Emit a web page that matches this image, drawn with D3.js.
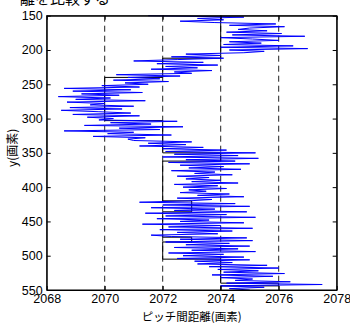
<html>
<head>
<meta charset="utf-8">
<script src="https://d3js.org/d3.v7.min.js"></script>
<style>
  body { margin: 0; background: #fff; }
  text { font-family: "Liberation Sans", Arial, "Noto Sans CJK JP", sans-serif; }
  .jp { font-family: "Noto Sans CJK JP", sans-serif; }
</style>
</head>
<body>
<div id="chart"></div>
<script>

// pitch distance (pixels) read at each image row, rows 150..550 step 2
var pitch = [
  2071.5, 2074.8, 2073.2, 2074.1, 2072.6, 2073.8, 2075.9, 2074.3, 2076.2, 2075.0, 2074.6,
  2075.6, 2074.2, 2076.1, 2074.4, 2076.9, 2074.0, 2075.1, 2076.0, 2074.3, 2075.4, 2074.1,
  2076.5, 2074.0, 2077.0, 2074.3, 2075.5, 2074.8, 2072.8, 2074.0, 2072.3, 2074.1, 2072.5,
  2071.0, 2073.4, 2071.8, 2073.9, 2072.1, 2073.2, 2071.6, 2073.7, 2072.4, 2073.0,
  2070.4, 2072.6, 2070.8, 2071.9, 2070.3, 2072.2, 2070.7, 2071.5, 2069.9, 2071.2,
  2068.6, 2070.9, 2068.9, 2071.3, 2069.2, 2070.5, 2068.4, 2070.2, 2069.0, 2071.4, 2068.7,
  2070.0, 2069.5, 2071.0, 2068.8, 2070.6, 2068.5, 2069.8, 2070.9, 2068.9, 2071.2, 2069.4, 2070.3,
  2069.8, 2072.5, 2070.2, 2071.6, 2069.3, 2072.7, 2070.5, 2071.9, 2068.6, 2071.0, 2070.1,
  2072.3, 2069.6, 2071.4, 2070.8,
  2071.0, 2073.0, 2071.5, 2072.8, 2071.2, 2073.4, 2072.0, 2074.2,
  2072.1, 2075.2, 2072.4, 2074.6, 2072.0, 2075.3, 2072.8, 2074.5, 2072.2, 2075.0,
  2072.6, 2074.1, 2072.9, 2074.7, 2072.3, 2073.8, 2073.1, 2074.4, 2072.5, 2073.6, 2072.8,
  2074.0, 2073.0, 2074.6, 2072.4, 2073.9, 2072.7, 2074.2, 2072.9, 2073.5, 2072.6, 2074.3,
  2073.2, 2074.8, 2072.5, 2073.7, 2072.9,
  2071.2, 2074.5, 2072.0, 2075.0, 2071.6, 2073.8, 2072.4, 2074.9, 2071.4, 2074.2, 2072.1,
  2075.2, 2071.8, 2073.6, 2072.6, 2074.8, 2071.3, 2074.0, 2072.2, 2075.1, 2071.9, 2074.4,
  2072.5, 2073.9, 2071.6,
  2072.3, 2074.9, 2072.6, 2075.1, 2072.1, 2074.3, 2072.8, 2075.0, 2072.4, 2074.6, 2073.0,
  2075.2, 2072.2, 2074.1, 2072.7, 2074.8, 2072.5, 2075.0, 2073.1, 2074.4,
  2073.2, 2075.6, 2073.6, 2076.0, 2073.9, 2075.3, 2074.1, 2076.2, 2073.7, 2075.8, 2074.0,
  2075.1, 2074.5, 2076.4, 2074.2, 2077.5, 2074.0, 2075.5, 2074.3, 2075.0
];
var rows = d3.range(150, 150 + 2 * pitch.length, 2);

// stepped reference distance: row, value
var stepRows = [150, 212, 212, 240, 240, 303, 303, 350, 350, 362, 362, 420, 420, 436, 436, 473, 473, 480, 480, 505, 505, 540, 540, 544, 544, 550];
var stepVals = [2074, 2074, 2072, 2072, 2070, 2070, 2072, 2072, 2074, 2074, 2072, 2072, 2073, 2073, 2072, 2072, 2073, 2073, 2072, 2072, 2074, 2074, 2076, 2076, 2074, 2074];

var gridVals = [2070, 2072, 2074, 2076];
var xTicks = [2068, 2070, 2072, 2074, 2076, 2078];
var yTicks = [150, 200, 250, 300, 350, 400, 450, 500, 550];

var margin = {top: 15.7, right: 13.3, bottom: 33, left: 46.7};
var width = 350 - margin.left - margin.right;
var height = 323 - margin.top - margin.bottom;

var svg = d3.select("#chart")
  .append("svg")
    .attr("width", 350)
    .attr("height", 323);

// title, cut off at the top
svg.append("text")
  .attr("class", "jp")
  .attr("x", 20)
  .attr("y", 4)
  .style("font-size", "15px")
  .text("離を比較する");

var g = svg.append("g")
  .attr("transform", "translate(" + margin.left + "," + margin.top + ")");

var x = d3.scaleLinear().domain([2068, 2078]).range([0, width]);
var y = d3.scaleLinear().domain([150, 550]).range([0, height]);

// dashed guides
g.selectAll(".guide")
  .data(gridVals)
  .enter()
  .append("line")
    .attr("x1", function(d) { return x(d); })
    .attr("x2", function(d) { return x(d); })
    .attr("y1", 0)
    .attr("y2", height)
    .attr("stroke", "#222")
    .attr("stroke-width", 1)
    .attr("stroke-dasharray", "6,4");

// stepped black line
var stepData = stepRows.map(function(r, i) { return [stepVals[i], r]; });
g.append("path")
  .datum(stepData)
  .attr("fill", "none")
  .attr("stroke", "#000")
  .attr("stroke-width", 1)
  .attr("d", d3.line()
    .x(function(d) { return x(d[0]); })
    .y(function(d) { return y(d[1]); }));

// blue measured line
g.append("path")
  .datum(pitch)
  .attr("fill", "none")
  .attr("stroke", "#0000ff")
  .attr("stroke-width", 1)
  .attr("d", d3.line()
    .x(function(d) { return x(d); })
    .y(function(d, i) { return y(rows[i]); }));

// axes with inward ticks on all sides
g.append("g")
  .attr("transform", "translate(0," + height + ")")
  .call(d3.axisBottom(x).tickValues(xTicks).tickFormat(d3.format("d")).tickSizeInner(-4).tickSizeOuter(0).tickPadding(4));
g.append("g")
  .call(d3.axisLeft(y).tickValues(yTicks).tickSizeInner(-4).tickSizeOuter(0).tickPadding(4));
g.append("g")
  .call(d3.axisTop(x).tickValues(xTicks).tickSizeInner(-4).tickSizeOuter(0).tickFormat(""));
g.append("g")
  .attr("transform", "translate(" + width + ",0)")
  .call(d3.axisRight(y).tickValues(yTicks).tickSizeInner(-4).tickSizeOuter(0).tickFormat(""));

g.selectAll(".domain").attr("stroke", "#000").attr("stroke-width", 1);
g.selectAll(".tick line").attr("stroke", "#000");
g.selectAll(".tick text")
  .attr("fill", "#000")
  .style("font-size", "12.5px")
  .style("font-family", "'Liberation Sans', Arial, sans-serif");

g.append("rect")
  .attr("width", width)
  .attr("height", height)
  .attr("fill", "none")
  .attr("stroke", "#000")
  .attr("stroke-width", 1);

// axis labels
svg.append("text")
  .attr("class", "jp")
  .attr("x", margin.left + width / 2)
  .attr("y", 321)
  .attr("text-anchor", "middle")
  .style("font-size", "11.5px")
  .text("ピッチ間距離(画素)");

svg.append("text")
  .attr("class", "jp")
  .attr("transform", "translate(17," + (margin.top + height / 2 - 5) + ")rotate(-90)")
  .attr("text-anchor", "middle")
  .style("font-size", "12px")
  .text("y(画素)");

</script>
</body>
</html>
